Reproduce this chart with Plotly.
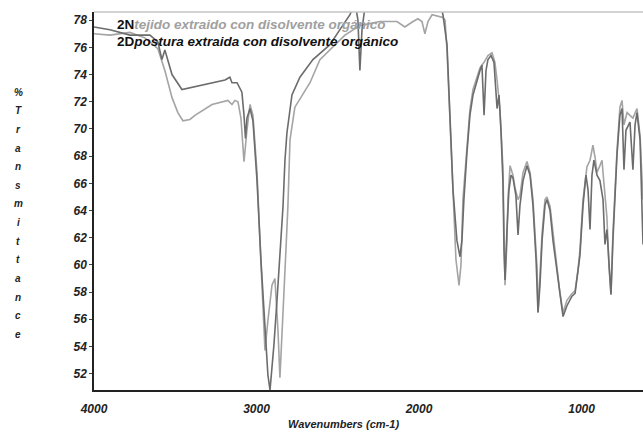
import plotly.graph_objects as go

# 2N: tejido extraido (lighter trace)
wn_2n = [4000, 3902, 3779, 3687, 3607, 3564, 3520, 3484, 3453, 3410, 3379, 3274, 3176, 3151, 3133, 3114,
         3096, 3077, 3059, 3040, 3022, 2997, 2979, 2960, 2948, 2930, 2905, 2887, 2868, 2856, 2837, 2819,
         2807, 2794, 2764, 2714, 2671, 2610, 2530, 2456, 2364, 2240, 2136, 2087, 2037, 2007, 1982, 1964,
         1945, 1920, 1853, 1840, 1828, 1810, 1791, 1773, 1754, 1742, 1730, 1705, 1687, 1668, 1644, 1625,
         1600, 1576, 1551, 1533, 1520, 1502, 1484, 1477, 1471, 1459, 1453, 1440, 1422, 1410, 1391, 1379,
         1360, 1336, 1317, 1299, 1274, 1268, 1256, 1243, 1225, 1213, 1194, 1176, 1151, 1133, 1114, 1090,
         1059, 1040, 1022, 1010, 991, 967, 948, 930, 917, 905, 887, 874, 868, 844, 831, 819,
         807, 782, 764, 751, 739, 720, 702, 684, 659, 640, 622]
t_2n = [77.0, 76.9, 77.1, 76.7, 75.9, 74.3, 72.3, 71.2, 70.6, 70.7, 71.0, 71.8, 72.1, 71.8, 72.1, 72.0,
        70.8, 67.6, 69.9, 71.8, 71.0, 66.8, 61.8, 56.7, 53.7, 55.9, 58.5, 59.0, 55.2, 51.7, 56.0, 61.1,
        64.3, 69.2, 71.6, 72.6, 73.4, 75.1, 76.0, 76.9, 77.6, 77.9, 77.9, 77.5, 77.9, 78.1, 77.9, 77.0,
        77.9, 78.4, 78.2, 78.0, 75.8, 70.6, 64.8, 60.4, 58.5, 60.0, 64.8, 68.4, 71.4, 72.9, 73.8, 74.5,
        74.9, 75.4, 75.6, 74.9, 73.6, 71.4, 67.2, 62.3, 58.5, 61.8, 64.8, 67.3, 66.6, 65.7, 64.8, 65.1,
        66.8, 67.6, 66.8, 64.8, 59.8, 56.5, 58.9, 62.3, 64.8, 65.0, 64.3, 62.3, 59.8, 57.9, 56.5, 57.4,
        57.9, 58.1, 59.6, 61.1, 64.8, 67.2, 67.7, 68.8, 67.9, 66.8, 67.3, 67.7, 66.8, 63.5, 59.8, 57.9,
        62.3, 68.4, 71.6, 72.1, 70.3, 71.2, 71.0, 70.8, 71.5, 69.5, 64.8]

# 2D: postura extraida (darker trace)
wn_2d = [4000, 3902, 3779, 3656, 3607, 3582, 3564, 3520, 3459, 3379, 3274, 3194, 3164, 3151, 3120, 3090,
         3077, 3068, 3059, 3040, 3022, 2997, 2973, 2948, 2930, 2917, 2905, 2893, 2874, 2856, 2837, 2825,
         2813, 2782, 2733, 2653, 2548, 2487, 2425, 2394, 2376, 2364, 2351, 2327, 2117, 1871, 1853, 1828,
         1810, 1791, 1767, 1748, 1736, 1724, 1705, 1687, 1668, 1644, 1625, 1613, 1600, 1588, 1576, 1557,
         1539, 1520, 1508, 1496, 1484, 1477, 1471, 1459, 1447, 1434, 1422, 1404, 1391, 1379, 1360, 1336,
         1317, 1299, 1280, 1268, 1256, 1243, 1225, 1213, 1194, 1176, 1151, 1133, 1114, 1090, 1059, 1040,
         1022, 1010, 991, 973, 960, 948, 936, 924, 905, 887, 868, 856, 844, 831, 819, 807,
         782, 764, 751, 739, 727, 702, 684, 671, 659, 640, 628, 622]
t_2d = [77.5, 77.3, 76.9, 76.9, 76.4, 75.1, 75.8, 74.0, 72.9, 73.1, 73.4, 73.6, 73.8, 73.4, 73.4, 72.7,
        71.0, 69.3, 70.8, 71.5, 70.6, 66.2, 60.4, 55.2, 51.9, 50.8, 52.3, 54.1, 57.4, 60.4, 64.3, 67.7,
        69.7, 72.5, 73.8, 75.1, 76.2, 77.3, 78.4, 79.3, 78.0, 74.3, 77.3, 79.5, 80.0, 79.3, 78.4, 76.2,
        71.4, 65.5, 61.8, 60.6, 61.8, 64.8, 68.3, 71.0, 72.5, 73.6, 74.3, 74.7, 71.0, 74.3, 75.1, 75.4,
        74.9, 71.5, 72.5, 69.9, 66.2, 61.0, 58.9, 62.6, 65.5, 66.6, 66.4, 65.1, 62.2, 64.4, 66.2, 67.3,
        66.6, 64.4, 60.4, 56.5, 58.5, 61.8, 64.4, 64.8, 64.0, 61.8, 59.6, 57.8, 56.2, 57.0, 57.7, 57.9,
        59.5, 60.7, 64.4, 66.6, 65.5, 62.6, 66.6, 67.7, 66.6, 66.2, 64.8, 61.5, 62.6, 59.6, 57.8, 61.8,
        68.1, 71.0, 71.5, 67.0, 69.9, 70.5, 67.0, 70.3, 71.2, 69.2, 63.7, 61.5]

y_ticks = [52, 54, 56, 58, 60, 62, 64, 66, 68, 70, 72, 74, 76, 78]
x_ticks = [4000, 3000, 2000, 1000]
legend_lines = [("2N", "tejido extraido con disolvente orgánico"),
                ("2D", "postura extraida con disolvente orgánico")]
y_title = "%Transmittance"

FONT = "Arial, Liberation Sans, sans-serif"

fig = go.Figure()
fig.add_trace(go.Scatter(x=wn_2n, y=t_2n, mode="lines", name="2N",
                         line=dict(color="#a4a4a4", width=1.6)))
fig.add_trace(go.Scatter(x=wn_2d, y=t_2d, mode="lines", name="2D",
                         line=dict(color="#6c6c6c", width=1.6)))

fig.update_layout(
    width=643, height=435,
    margin=dict(l=94, r=0, t=12, b=45),
    paper_bgcolor="white", plot_bgcolor="white",
    showlegend=False,
    font=dict(family=FONT, color="black"),
)
fig.update_xaxes(range=[4000, 622], tickvals=x_ticks, ticktext=[str(v) for v in x_ticks],
                 showgrid=False, zeroline=False, showline=True, linecolor="#222", linewidth=2,
                 ticks="", ticklabelstandoff=7,
                 tickfont=dict(size=12, weight="bold", style="italic", color="#222"))
fig.update_yaxes(range=[50.8, 78.6], tickvals=y_ticks, ticktext=[str(v) for v in y_ticks],
                 showgrid=False, zeroline=False, showline=True, linecolor="#222", linewidth=1.5,
                 ticks="outside", ticklen=3, tickcolor="#444",
                 tickfont=dict(size=12, weight="bold", style="italic", color="#222"))

# top frame line
fig.add_shape(type="line", xref="paper", yref="paper", x0=0, x1=1, y0=1, y1=1,
              line=dict(color="#c4c4c4", width=1.5))

# legend-like labels inside the plot
leg_y = [77.7, 76.4]
leg_colors = ["#a0a0a0", "#111111"]
for (code, txt), yy, col in zip(legend_lines, leg_y, leg_colors):
    fig.add_annotation(
        x=3871, y=yy, xref="x", yref="y", xanchor="left", yanchor="middle", showarrow=False,
        text=(f"<b>{code}</b><span style='color:{col}'><b><i>{txt}</i></b></span>"),
        font=dict(size=13.5, color="#111", family=FONT))

# vertical stacked y title
n = len(y_title)
for i, ch in enumerate(y_title):
    yy = 72.7 - i * (72.7 - 54.9) / (n - 1)
    fig.add_annotation(x=-0.138, y=yy, xref="paper", yref="y", showarrow=False,
                       text=f"<b><i>{ch}</i></b>", font=dict(size=10, color="#222", family=FONT),
                       xanchor="center", yanchor="middle")

# x title
fig.add_annotation(x=0.455, y=-0.07, xref="paper", yref="paper", showarrow=False,
                   text="<b><i>Wavenumbers (cm-1)</i></b>", xanchor="center", yanchor="top",
                   font=dict(size=11, color="#222", family=FONT))

fig.write_html("out.html")
